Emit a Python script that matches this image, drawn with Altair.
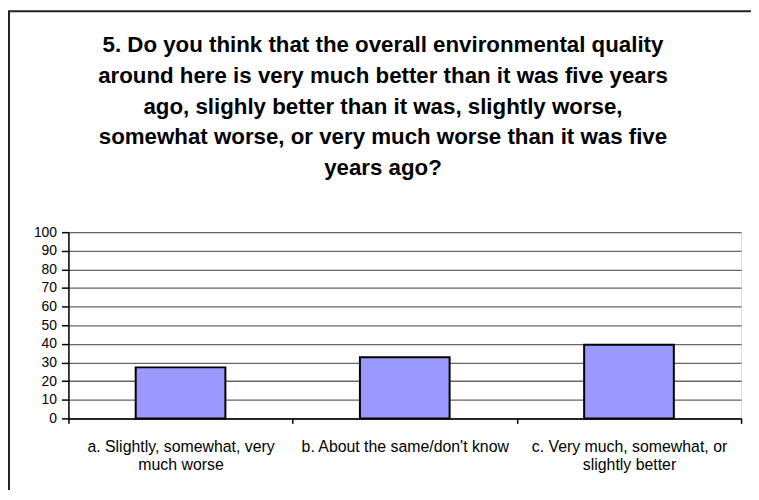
import altair as alt
import pandas as pd

categories = [
    "a. Slightly, somewhat, very\nmuch worse",
    "b. About the same/don't know",
    "c. Very much, somewhat, or\nslightly better",
]
values = [27.4, 32.8, 39.6]
y_ticks = [0, 10, 20, 30, 40, 50, 60, 70, 80, 90, 100]
title_lines = [
    "5. Do you think that the overall environmental quality",
    "around here is very much better than it was five years",
    "ago, slighly better than it was, slightly worse,",
    "somewhat worse, or very much worse than it was five",
    "years ago?",
]

df = pd.DataFrame({"category": categories, "value": values})

FONT = "Liberation Sans"

bars = alt.Chart(df).mark_bar(
    color="#9999FF", stroke="black", strokeWidth=2,
    width=alt.RelativeBandSize(0.4)
).encode(
    x=alt.X("category:N", sort=categories,
            scale=alt.Scale(paddingInner=0, paddingOuter=0),
            axis=alt.Axis(title=None, labelAngle=0, tickBand="extent",
                          labelExpr="split(datum.label, '\\n')",
                          labelFontSize=16, labelLineHeight=19,
                          labelPadding=15, labelColor="black",
                          labelFont=FONT, labelBaseline="top", labelLimit=0,
                          domainColor="black", domainWidth=1.5,
                          tickColor="black", tickSize=5, tickWidth=1.5,
                          grid=False)),
    y=alt.Y("value:Q", scale=alt.Scale(domain=[0, 100], nice=False),
            axis=alt.Axis(title=None, values=y_ticks, labelFontSize=14,
                          labelFont=FONT, labelColor="black",
                          labelPadding=5,
                          domainColor="black", domainWidth=1.5,
                          tickColor="black", tickSize=7, tickWidth=1.5,
                          grid=True, gridColor="#666666", gridWidth=1.3)),
)

frame = alt.Chart(pd.DataFrame({"k": [0]})).mark_rect(
    fill=None, stroke="#222222", strokeWidth=2
).encode(
    x=alt.value(-60), y=alt.value(-223),
    x2=alt.value(720), y2=alt.value(320),
)

chart = alt.layer(frame, bars).properties(
    width=679, height=188,
    padding={"left": 61, "top": 224, "right": 10, "bottom": 70},
    autosize=alt.AutoSizeParams(type="none"),
    title=alt.Title(text=title_lines, font=FONT, fontSize=22.5,
                    fontWeight="bold", lineHeight=31, color="black",
                    anchor="middle", frame="group", dx=-22,
                    baseline="top", offset=-171),
).configure_view(stroke="#808080", strokeWidth=1.5).configure(background="white")

chart.save("out.html", embed_options={"renderer": "svg", "actions": False})
